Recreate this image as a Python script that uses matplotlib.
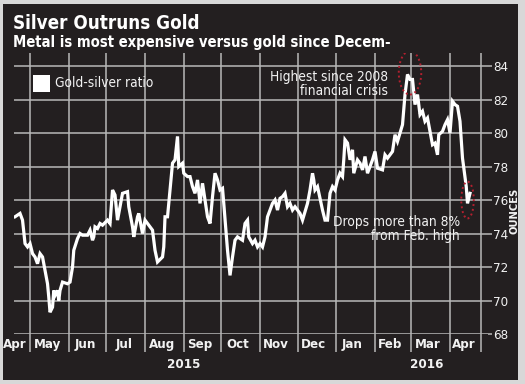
import matplotlib
matplotlib.use("Agg")
import matplotlib.pyplot as plt
import matplotlib.dates as mdates
from matplotlib import font_manager
from matplotlib.patches import Ellipse, Rectangle
import pandas as pd

# gold-silver ratio (day offsets from 2015-05-01)
START = pd.Timestamp("2015-05-01")
days = [-12, -8, -6, -4, -2, 0, 2, 4, 6, 8, 10, 11, 14, 15, 16, 18, 19, 20, 22, 23,
        24, 26, 30, 32, 34, 35, 38, 40, 42, 46, 48, 50, 51, 52, 54, 56, 58, 62, 64, 66,
        68, 70, 72, 74, 78, 79, 82, 83, 86, 87, 90, 92, 94, 98, 100, 102, 106, 107, 108, 110,
        114, 116, 118, 119, 122, 123, 126, 128, 130, 132, 134, 136, 138, 142, 144, 146, 148, 150, 152, 154,
        155, 158, 160, 162, 164, 166, 170, 172, 174, 175, 178, 180, 182, 184, 186, 188, 190, 194, 196, 198,
        200, 202, 204, 206, 208, 210, 212, 214, 216, 218, 222, 224, 226, 227, 228, 230, 234, 236, 238, 240,
        242, 244, 246, 248, 250, 251, 252, 254, 256, 258, 259, 262, 264, 266, 268, 270, 274, 276, 278, 282,
        284, 286, 290, 292, 294, 298, 300, 302, 304, 306, 308, 310, 312, 314, 316, 318, 320, 322, 324, 326,
        327, 330, 332, 334, 336, 338, 340, 342, 344, 346, 349, 350, 352]
ratio = [75.0, 75.2, 74.8, 73.4, 73.2, 73.4, 72.8, 72.6, 72.2, 72.8, 72.6, 72.2, 71.0, 70.2, 69.3, 69.6, 70.6, 70.3, 70.6, 70.0,
         70.6, 71.1, 71.0, 71.1, 72.0, 73.0, 73.7, 74.0, 73.9, 73.9, 74.2, 73.6, 73.8, 74.4, 74.3, 74.6, 74.5, 74.8, 74.6, 76.6,
         76.3, 74.8, 75.6, 76.4, 76.5, 75.6, 74.4, 73.8, 75.0, 75.2, 74.0, 74.8, 74.6, 74.2, 73.0, 72.3, 72.6, 73.2, 75.0, 75.0,
         78.2, 78.4, 79.8, 78.0, 78.2, 77.6, 77.4, 77.4, 76.8, 76.4, 77.2, 75.8, 77.0, 75.0, 74.6, 76.2, 77.6, 77.2, 76.6, 76.7,
         75.8, 73.0, 71.5, 72.6, 73.6, 73.8, 73.6, 74.6, 74.8, 73.8, 73.4, 73.6, 73.2, 73.4, 73.2, 73.8, 75.0, 75.8, 76.0, 75.4,
         76.1, 76.2, 76.4, 75.6, 75.8, 75.4, 75.6, 75.4, 75.2, 74.8, 75.8, 76.6, 77.6, 77.2, 76.6, 76.8, 75.4, 74.8, 74.8, 76.4,
         76.8, 76.6, 77.2, 77.6, 77.4, 78.4, 79.6, 79.4, 78.4, 79.0, 77.6, 78.4, 78.2, 77.8, 78.6, 77.6, 78.4, 78.9, 77.9, 77.8,
         78.7, 78.5, 78.9, 79.9, 79.5, 80.5, 82.3, 83.5, 83.2, 83.2, 81.7, 82.3, 81.1, 81.3, 80.7, 80.9, 80.1, 79.3, 79.4, 78.7,
         79.9, 80.1, 80.5, 80.8, 80.0, 81.9, 81.7, 81.6, 80.7, 78.5, 76.8, 75.8, 76.4]

month_lines = ["2015-05-01", "2015-06-01", "2015-07-01", "2015-08-01", "2015-09-01", "2015-10-01",
               "2015-11-01", "2015-12-01", "2016-01-01", "2016-02-01", "2016-03-01", "2016-04-01",
               "2016-04-26"]
month_labels = ["Apr", "May", "Jun", "Jul", "Aug", "Sep", "Oct", "Nov", "Dec", "Jan", "Feb", "Mar", "Apr"]
month_label_dates = ["2015-04-19", "2015-05-15", "2015-06-14", "2015-07-15", "2015-08-15", "2015-09-14",
                     "2015-10-14", "2015-11-14", "2015-12-14", "2016-01-14", "2016-02-13", "2016-03-14",
                     "2016-04-12"]
y_ticks = [68, 70, 72, 74, 76, 78, 80, 82, 84]

names = {f.name for f in font_manager.fontManager.ttflist}
COND = "Liberation Sans Narrow" if "Liberation Sans Narrow" in names else "DejaVu Sans"
plt.rcParams["font.family"] = [COND, "DejaVu Sans"]
plt.rcParams["font.stretch"] = "condensed"

BG = "#231f20"
GRID = "#b8b8b8"
FG = "#f2f2f2"
RED = "#b3202f"

W, H = 525, 384
def fx(x):
    return x / W
def fy(y):
    return 1 - y / H

dates = START + pd.to_timedelta(days, unit="D")

fig = plt.figure(figsize=(5.25, 3.84), dpi=100, facecolor="#d8d8d8")
fig.add_artist(Rectangle((fx(3), fy(380)), fx(515), 376 / H, transform=fig.transFigure,
                         facecolor=BG, edgecolor="none", zorder=0))

ax = fig.add_axes([fx(14.4), fy(334), (487.5 - 14.4) / W, (334 - 53) / H])
ax.set_facecolor(BG)
ax.patch.set_alpha(0)
for s in ax.spines.values():
    s.set_visible(False)

ax.plot(dates, ratio, color="white", lw=2.3, solid_joinstyle="miter", zorder=3)

ax.set_xlim(START - pd.Timedelta(days=12.5), pd.Timestamp("2016-05-01"))
ax.set_ylim(68, 84.78)

ax.yaxis.tick_right()
ax.set_yticks(y_ticks)
ax.tick_params(axis="y", which="major", length=3, width=1.1, color=GRID, pad=1,
               labelsize=9.5, labelcolor=FG)
ax.grid(axis="y", color=GRID, lw=1.1, zorder=1)

ax.set_xticks(pd.to_datetime(month_lines))
ax.set_xticks(pd.to_datetime(month_label_dates), minor=True)
ax.set_xticklabels([])
ax.set_xticklabels(month_labels, minor=True, fontweight="bold")
ax.tick_params(axis="x", which="major", direction="out", length=13, width=1.1, color=GRID)
ax.tick_params(axis="x", which="minor", length=0, pad=3, labelsize=9.5, labelcolor=FG)
ax.grid(axis="x", which="major", color=GRID, lw=1.1, zorder=1)

# year labels
fig.text(fx(184), fy(365), "2015", color=FG, fontsize=9.5, fontweight="bold", ha="center", va="center")
fig.text(fx(427), fy(365), "2016", color=FG, fontsize=9.5, fontweight="bold", ha="center", va="center")

# titles
fig.text(fx(13), fy(29), "Silver Outruns Gold", color="white", fontsize=13.5, fontweight="bold",
         ha="left", va="baseline")
fig.text(fx(13), fy(47), "Metal is most expensive versus gold since Decem-", color="white",
         fontsize=10.6, fontweight="bold", ha="left", va="baseline")

# legend
fig.add_artist(Rectangle((fx(33), fy(92)), 17 / W, 17 / H, transform=fig.transFigure,
                         facecolor="white", edgecolor="none", zorder=4))
fig.text(fx(55), fy(83), "Gold-silver ratio", color=FG, fontsize=9.8, ha="left", va="center")

# annotations
fig.text(fx(388), fy(84), "Highest since 2008\nfinancial crisis", color=FG, fontsize=9.8,
         ha="right", va="center", linespacing=1.0, zorder=5)
fig.text(fx(460), fy(229), "Drops more than 8%\nfrom Feb. high", color=FG, fontsize=9.8,
         ha="right", va="center", linespacing=1.0, zorder=5)

ax.add_patch(Ellipse((mdates.date2num(pd.Timestamp("2016-02-29")), 83.6), 18, 2.6,
                     fill=False, edgecolor=RED, lw=1.4, ls=(0, (1, 1.5)), zorder=4))
ax.add_patch(Ellipse((mdates.date2num(pd.Timestamp("2016-04-15")), 76.0), 10, 2.2,
                     fill=False, edgecolor=RED, lw=1.4, ls=(0, (1, 1.5)), zorder=4))

fig.text(fx(515), fy(211), "OUNCES", color=FG, fontsize=8, fontweight="bold", rotation=90,
         ha="center", va="center")

fig.savefig("out.png", dpi=100, facecolor=fig.get_facecolor())
